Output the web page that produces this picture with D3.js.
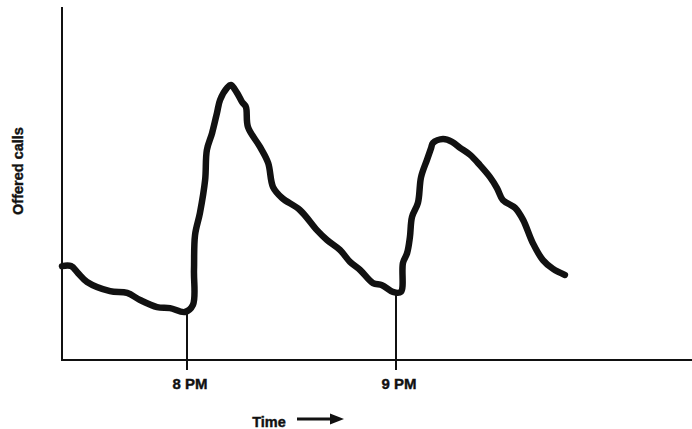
<!DOCTYPE html>
<html>
<head>
<meta charset="utf-8">
<script src="https://cdn.jsdelivr.net/npm/d3@7"></script>
<style>
  html, body { margin: 0; padding: 0; background: #fff; }
  svg { display: block; }
  text { font-family: "Liberation Sans", Arial, sans-serif; font-weight: bold; fill: #111; stroke: #111; stroke-width: 0.4px; }
</style>
</head>
<body>
<svg id="chart" width="692" height="429"></svg>
<script>
// Minutes relative to 8 PM
const minutes = [-35.9, -33.3, -31.3, -28.7, -22.1, -17.2, -13.5, -8.6, -4.9, -0.6, 1.7, 2.0, 2.3, 3.7, 5.2, 5.7, 7.2, 8.6, 9.5, 11.5, 12.6, 14.4, 15.8, 16.9, 17.5, 21.0, 23.3, 24.7, 27.3, 32.4, 37.3, 40.2, 43.9, 46.8, 49.7, 53.4, 56.0, 59.1, 61.4, 62.0, 63.2, 64.0, 64.6, 66.3, 67.2, 68.9, 70.1, 70.6, 73.5, 76.1, 78.4, 81.3, 84.1, 87.0, 89.0, 90.7, 94.2, 96.5, 99.3, 102.2, 105.1, 108.5];
const offeredCalls = [26.6, 26.6, 24.6, 22.1, 19.5, 19.0, 17.0, 15.0, 14.7, 13.6, 15.6, 25.5, 35.4, 41.6, 51.0, 59.5, 64.3, 70.0, 73.7, 77.1, 77.9, 75.6, 73.1, 71.7, 66.0, 60.3, 55.8, 49.0, 45.9, 42.5, 36.8, 34.0, 31.2, 27.8, 25.5, 21.8, 21.2, 19.3, 19.3, 27.5, 30.3, 34.8, 40.5, 44.5, 51.8, 56.7, 60.1, 61.5, 62.6, 61.8, 60.1, 58.1, 55.2, 51.8, 48.7, 45.3, 43.1, 39.7, 33.1, 28.3, 25.8, 24.1];
const tickMinutes = [0, 60];
const tickLabels = ["8 PM", "9 PM"];
const tickValues = [13.6, 19.3];
const xTitle = "Time";
const yTitle = "Offered calls";

const svg = d3.select("#chart");
const mLeft = 62, mRight = 692, mTop = 7, mBottom = 360;

const x = d3.scaleLinear().domain([-35.9, 145]).range([mLeft, mRight]);
const y = d3.scaleLinear().domain([0, 100]).range([mBottom, mTop]);

// Axes
svg.append("line").attr("x1", mLeft).attr("x2", mLeft).attr("y1", mTop).attr("y2", mBottom + 1)
  .attr("stroke", "#111").attr("stroke-width", 2);
svg.append("line").attr("x1", mLeft - 1).attr("x2", mRight).attr("y1", mBottom).attr("y2", mBottom)
  .attr("stroke", "#111").attr("stroke-width", 2);

// Ticks: from below axis up to the curve
tickMinutes.forEach((m, i) => {
  svg.append("line")
    .attr("x1", x(m)).attr("x2", x(m))
    .attr("y1", y(tickValues[i])).attr("y2", mBottom + 10)
    .attr("stroke", "#111").attr("stroke-width", 2);
  svg.append("text")
    .attr("x", x(m) + 3).attr("y", 389)
    .attr("text-anchor", "middle")
    .attr("font-size", 15)
    .text(tickLabels[i]);
});

// Curve
const pts = minutes.map((m, i) => [m, offeredCalls[i]]);
const line = d3.line().x(d => x(d[0])).y(d => y(d[1])).curve(d3.curveCatmullRom.alpha(0.5));
svg.append("path").attr("d", line(pts))
  .attr("fill", "none").attr("stroke", "#111").attr("stroke-width", 6.5)
  .attr("stroke-linecap", "round").attr("stroke-linejoin", "round");

// X title and arrow
svg.append("text").attr("x", 269).attr("y", 427).attr("text-anchor", "middle")
  .attr("font-size", 14.5).text(xTitle);
svg.append("line").attr("x1", 297).attr("x2", 332).attr("y1", 419).attr("y2", 419)
  .attr("stroke", "#111").attr("stroke-width", 3);
svg.append("path").attr("d", "M330,413.5 L344,419 L330,424.5 Z").attr("fill", "#111");

// Y title
svg.append("text").attr("transform", "translate(23,171) rotate(-90)")
  .attr("text-anchor", "middle").attr("font-size", 14.5).text(yTitle);
</script>
</body>
</html>
